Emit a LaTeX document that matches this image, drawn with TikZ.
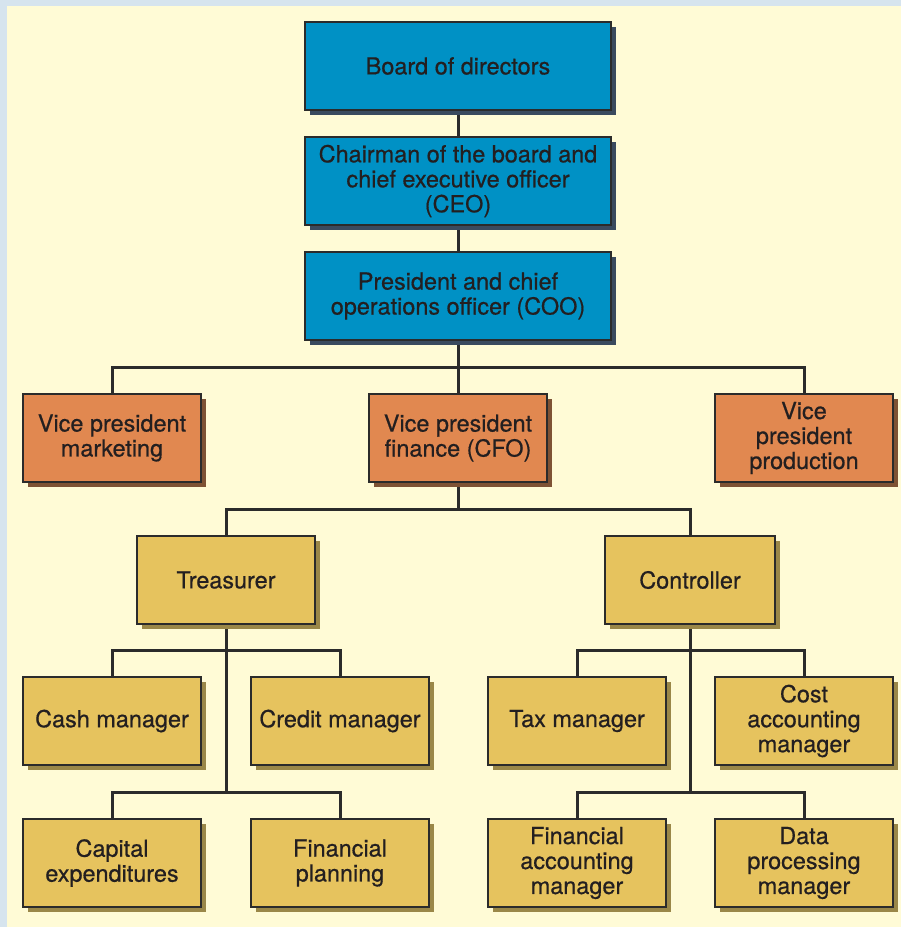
\documentclass[tikz,border=0pt]{standalone}
\usepackage{fontspec}
\setmainfont{TeX Gyre Heros}
\usetikzlibrary{shadows}
\pgfdeclarelayer{bg}
\pgfsetlayers{bg,main}
\definecolor{frame}{HTML}{D6E4EE}
\definecolor{paper}{HTML}{FFFBD6}
\definecolor{boxline}{HTML}{2B2B2B}
\definecolor{ink}{HTML}{231F20}
\definecolor{topfill}{HTML}{0091C5}
\definecolor{topshade}{HTML}{3A4A5E}
\definecolor{vpfill}{HTML}{E18850}
\definecolor{vpshade}{HTML}{7E5234}
\definecolor{midfill}{HTML}{E6C35E}
\definecolor{midshade}{HTML}{9A8748}

\begin{document}
\begin{tikzpicture}[x=0.3mm,y=-0.3mm,
		every node/.style={
			rectangle,
			draw=boxline,
			line width=0.55mm,
			text=ink,
			align=center,
			inner sep=0pt,
			minimum height=26.4mm,
			minimum width=53.4mm,
			font=\fontsize{20}{21.3}\selectfont\addfontfeature{FakeBold=0.6}
		},
		topbox/.style={
			fill=topfill,
			minimum width=91.8mm,
			drop shadow={shadow xshift=1.5mm, shadow yshift=-1.5mm, opacity=1, fill=topshade}
		},
		vpbox/.style={
			fill=vpfill,
			drop shadow={shadow xshift=1.5mm, shadow yshift=-1.5mm, opacity=1, fill=vpshade}
		},
		midbox/.style={
			fill=midfill,
			drop shadow={shadow xshift=1.5mm, shadow yshift=-1.5mm, opacity=1, fill=midshade}
		},
		link/.style={
			draw=boxline,
			line width=0.9mm
		}]

		\useasboundingbox (0,0) rectangle (901,927);

		%top of the chart
		\node[topbox] at (458,66) (board) {Board of directors};
		\node[topbox] at (458,181) (ceo) {Chairman of the board and\\chief executive officer\\(CEO)};
		\node[topbox] at (458,296) (coo) {President and chief\\operations officer (COO)};

		%vice presidents
		\node[vpbox] at (112,438) (vpm) {Vice president\\marketing};
		\node[vpbox] at (458,438) (vpf) {Vice president\\finance (CFO)};
		\node[vpbox] at (804,438) (vpp) {Vice\\president\\production};

		%finance
		\node[midbox] at (226,580) (tre) {Treasurer};
		\node[midbox, minimum width=51mm] at (690,580) (con) {Controller};

		\node[midbox] at (112,721) (cash) {Cash manager};
		\node[midbox] at (340,721) (cred) {Credit manager};
		\node[midbox] at (577,721) (tax) {Tax manager};
		\node[midbox] at (804,721) (cost) {Cost\\accounting\\manager};

		\node[midbox] at (112,863) (capex) {Capital\\expenditures};
		\node[midbox] at (340,863) (plan) {Financial\\planning};
		\node[midbox] at (577,863) (facc) {Financial\\accounting\\manager};
		\node[midbox] at (804,863) (dproc) {Data\\processing\\manager};

		%junctions
		\coordinate (vpbus) at (458,367);
		\coordinate (finbus) at (458,509);
		\coordinate (trebus1) at (226,650);
		\coordinate (trebus2) at (226,792);
		\coordinate (conbus1) at (690,650);
		\coordinate (conbus2) at (690,792);

		\begin{pgfonlayer}{bg}
			\fill[frame] (0,0) rectangle (901,927);
			\fill[paper] (7,6) rectangle (901,927);

			\draw[link] (board) -- (ceo);
			\draw[link] (ceo) -- (coo);
			\draw[link] (coo) -- (vpf);
			\draw[link] (vpm.north) |- (vpbus) -| (vpp.north);

			\draw[link] (vpf) -- (finbus);
			\draw[link] (tre.north) |- (finbus) -| (con.north);

			\draw[link] (tre) -- (trebus2);
			\draw[link] (cash.north) |- (trebus1) -| (cred.north);
			\draw[link] (capex.north) |- (trebus2) -| (plan.north);

			\draw[link] (con) -- (conbus2);
			\draw[link] (tax.north) |- (conbus1) -| (cost.north);
			\draw[link] (facc.north) |- (conbus2) -| (dproc.north);
		\end{pgfonlayer}

	\end{tikzpicture}
\end{document}
